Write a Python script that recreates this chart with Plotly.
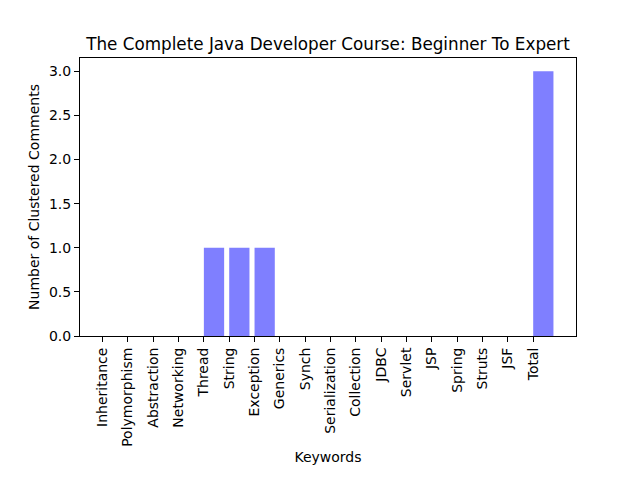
import plotly.graph_objects as go

categories = ["Inheritance", "Polymorphism", "Abstraction", "Networking", "Thread", "String",
              "Exception", "Generics", "Synch", "Serialization", "Collection", "JDBC",
              "Servlet", "JSP", "Spring", "Struts", "JSF", "Total"]
values = [0, 0, 0, 0, 1, 1, 1, 0, 0, 0, 0, 0, 0, 0, 0, 0, 0, 3]
positions = list(range(len(categories)))
y_ticks = [0.0, 0.5, 1.0, 1.5, 2.0, 2.5, 3.0]

fig = go.Figure(go.Bar(x=positions, y=values, width=0.8, offset=0,
                       marker=dict(color="rgba(0,0,255,0.5)", line=dict(width=0))))

W, H = 632, 472
font = dict(family="DejaVu Sans", size=14, color="black")
fig.update_layout(
    width=W, height=H,
    margin=dict(l=72, r=64, t=50, b=144, autoexpand=False),
    paper_bgcolor="white", plot_bgcolor="white",
    font=font,
    title=dict(text="The Complete Java Developer Course: Beginner To Expert",
               x=(328 - 8) / W, xanchor="center", y=1 - 36 / H, yanchor="middle",
               font=dict(family="DejaVu Sans", size=16.8, color="black")),
    showlegend=False,
)
fig.update_xaxes(
    range=[-0.89, 18.69], tickmode="array", tickvals=positions, ticktext=categories,
    tickangle=-90, ticks="outside", ticklen=5, tickcolor="black",
    showline=True, linecolor="black", linewidth=1, mirror=True,
    showgrid=False, zeroline=False, automargin=False,
    title=dict(text="Keywords", font=font, standoff=6),
)
fig.update_yaxes(
    range=[0, 3.15], tickmode="array", tickvals=y_ticks,
    ticktext=[f"{v:.1f}" for v in y_ticks],
    ticks="outside", ticklen=5, tickcolor="black",
    showline=True, linecolor="black", linewidth=1, mirror=True,
    showgrid=False, zeroline=False, automargin=False,
    title=dict(text="Number of Clustered Comments", font=font, standoff=6),
)

fig.write_html("out.html")
